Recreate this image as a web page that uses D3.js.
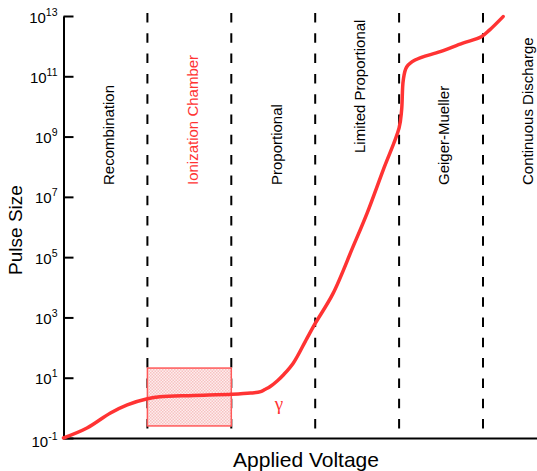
<!DOCTYPE html>
<html lang="en">
<head>
<meta charset="UTF-8">
<title>Pulse Size vs Applied Voltage</title>
<script src="https://d3js.org/d3.v7.min.js"></script>
<style>
  body { margin: 0; background: #fff; }
  svg { display: block; font-family: "Liberation Sans", Arial, Helvetica, sans-serif; }
</style>
</head>
<body>
<svg id="chart"></svg>
<script>
// data (voltage in region units, pulse size as log10)
const voltage  = [0.00, 0.28, 0.56, 0.76, 1.00, 1.15, 1.55, 2.01, 2.23, 2.35, 2.40, 2.46, 2.55, 2.62, 2.74, 2.90, 3.00, 3.21, 3.45, 3.62, 3.81, 4.00, 4.03, 4.05, 4.09, 4.19, 4.49, 4.76, 4.98, 5.08, 5.24];
const logPulse = [-1.00, -0.67, -0.17, 0.10, 0.30, 0.37, 0.41, 0.45, 0.49, 0.54, 0.61, 0.70, 0.90, 1.09, 1.49, 2.30, 2.80, 3.78, 5.34, 6.47, 7.89, 9.29, 9.88, 10.88, 11.31, 11.54, 11.82, 12.10, 12.31, 12.54, 12.98];

const regionNames  = ["Recombination", "Ionization Chamber", "Proportional", "Limited Proportional", "Geiger-Mueller", "Continuous Discharge"];
const regionBounds = [1, 2, 3, 4, 5];
const tickExps     = [-1, 1, 3, 5, 7, 9, 11, 13];
// ionization chamber band: voltage from/to, pulse low/high
const bandVoltage = [1, 2];
const bandPulse   = [Math.pow(10, -0.6), Math.pow(10, 1.32)];

const width = 537, height = 471;
const plotLeft = 63.5, plotBottom = 438, plotTop = 16;
const red = "#ff3333";

const svg = d3.select("#chart").attr("width", width).attr("height", height);

const x = d3.scaleLinear().domain([0, 5]).range([plotLeft, 483]);
const y = d3.scaleLog().domain([1e-1, 1e13]).range([plotBottom, plotTop]);

// pattern for the shaded band
const defs = svg.append("defs");
const pat = defs.append("pattern")
    .attr("id", "dots")
    .attr("width", 3).attr("height", 3)
    .attr("patternUnits", "userSpaceOnUse");
pat.append("rect").attr("width", 3).attr("height", 3).attr("fill", "#fdeeee");
pat.append("rect").attr("width", 1.5).attr("height", 1.5).attr("fill", "#f7c2c2");
pat.append("rect").attr("x", 1.5).attr("y", 1.5).attr("width", 1.5).attr("height", 1.5).attr("fill", "#f7c2c2");

// dashed region borders
svg.selectAll(".border")
    .data(regionBounds)
    .enter().append("line")
    .attr("class", "border")
    .attr("x1", d => x(d)).attr("x2", d => x(d))
    .attr("y1", 13).attr("y2", 430)
    .attr("stroke", "#000")
    .attr("stroke-width", 2)
    .attr("stroke-dasharray", "9.5 10.8");

// ionization chamber band
svg.append("rect")
    .attr("x", x(bandVoltage[0]))
    .attr("y", y(bandPulse[1]))
    .attr("width", x(bandVoltage[1]) - x(bandVoltage[0]))
    .attr("height", y(bandPulse[0]) - y(bandPulse[1]))
    .attr("fill", "url(#dots)")
    .attr("stroke", "#ff5a5a")
    .attr("stroke-width", 1.5);

// region labels (rotated)
const centers = [0].concat(regionBounds).map((b, i, arr) => i < arr.length - 1 ? (b + arr[i + 1]) / 2 : b + 0.5);
svg.selectAll(".region")
    .data(regionNames)
    .enter().append("text")
    .attr("class", "region")
    .attr("transform", (d, i) => {
        const bot = i === 3 ? 153 : 185;
        return `translate(${x(centers[i]) + 3},${bot}) rotate(-90)`;
    })
    .attr("dy", "0.35em")
    .attr("font-size", "15px")
    .attr("fill", (d, i) => i === 1 ? red : "#000")
    .text(d => d);

// axes
const yAxis = svg.append("g")
    .attr("transform", `translate(${plotLeft},0)`)
    .call(d3.axisLeft(y).tickValues(tickExps.map(e => Math.pow(10, e))).tickSize(-10).tickSizeOuter(0).tickFormat(""));
yAxis.selectAll("path, line").attr("stroke", "#000").attr("stroke-width", 2);

yAxis.selectAll(".tick").each(function(d, i) {
    const t = d3.select(this).append("text")
        .attr("x", -6)
        .attr("y", i === 0 ? 8 : 6)
        .attr("text-anchor", "end")
        .attr("fill", "#000")
        .attr("font-size", "15px");
    t.append("tspan").text("10");
    t.append("tspan").attr("dy", -7).attr("font-size", "10.5px").text(tickExps[i]);
});

const xAxis = svg.append("g")
    .attr("transform", `translate(0,${plotBottom})`)
    .call(d3.axisBottom(d3.scaleLinear().domain([0, 1]).range([plotLeft - 1, width])).tickValues([]).tickSizeOuter(0));
xAxis.select("path").attr("stroke", "#000").attr("stroke-width", 2);

// curve
const pts = voltage.map((v, i) => [v, Math.pow(10, logPulse[i])]);
svg.append("path")
    .datum(pts)
    .attr("fill", "none")
    .attr("stroke", red)
    .attr("stroke-width", 3.5)
    .attr("stroke-linecap", "round")
    .attr("d", d3.line().x(d => x(d[0])).y(d => y(d[1])).curve(d3.curveCatmullRom.alpha(0.5)));

// gamma marker
svg.append("text")
    .attr("x", 279).attr("y", 410)
    .attr("text-anchor", "middle")
    .attr("font-family", "'Liberation Serif', 'DejaVu Serif', serif")
    .attr("font-size", "19px")
    .attr("fill", red)
    .text("γ");

// axis titles
svg.append("text")
    .attr("transform", "translate(22,230) rotate(-90)")
    .attr("text-anchor", "middle")
    .attr("font-size", "19px")
    .text("Pulse Size");

svg.append("text")
    .attr("x", 306).attr("y", 467)
    .attr("text-anchor", "middle")
    .attr("font-size", "21px")
    .text("Applied Voltage");
</script>
</body>
</html>
